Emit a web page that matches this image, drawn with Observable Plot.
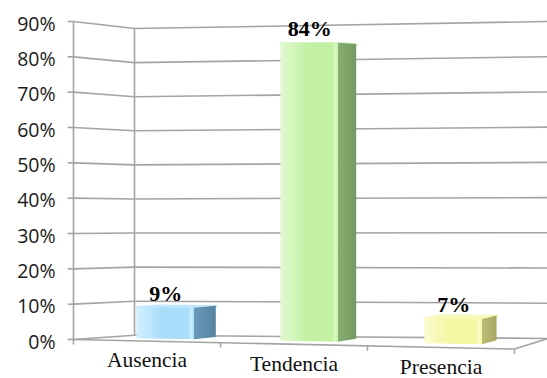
<!DOCTYPE html>
<html>
<head>
<meta charset="utf-8">
<script src="https://cdn.jsdelivr.net/npm/d3@7"></script>
<script src="https://cdn.jsdelivr.net/npm/@observablehq/plot@0.6"></script>
<style>
  html, body { margin: 0; padding: 0; background: #fff; }
  #chart svg { display: block; }
</style>
</head>
<body>
<div id="chart"></div>
<script>
// Data
const categories = ["Ausencia", "Tendencia", "Presencia"];
const values = [9, 84, 7];
const valueLabels = ["9%", "84%", "7%"];
const yTicks = [0, 10, 20, 30, 40, 50, 60, 70, 80, 90];
const tickLabels = ["0%", "10%", "20%", "30%", "40%", "50%", "60%", "70%", "80%", "90%"];

// Face colours per category: [light, base, edge highlight, side light, side dark, top]
const palettes = [
  ["#d2effe", "#a9ddfa", "#cdeefe", "#6a9abb", "#54849f", "#c2e7fc"],
  ["#e2f9d2", "#c3f1a3", "#dcf8c8", "#88ad74", "#739a60", "#d3f5bc"],
  ["#fbfccd", "#f4f6a2", "#fafbc4", "#bcbc77", "#a6a662", "#f8f9bb"]
];

// Perspective room: u runs across the category slots (0..3), w runs from the
// front edge (0) to the back wall (1), v is the percentage. Corners are given
// in x/y scale units: x position, y at 0% and y at 90%.
const room = {
  FL: {x: 0,     y0: 0,    y90: 90},
  FR: {x: 3,     y0: -2.7, y90: 90.5},
  BL: {x: 0.415, y0: 1.2,  y90: 88},
  BR: {x: 3.23,  y0: 0.3,  y90: 90}
};
const lerp = (a, b, k) => a + (b - a) * k;
function project(u, w, v) {
  const t = u / 3;
  const mix = key => lerp(lerp(room.FL[key], room.FR[key], t), lerp(room.BL[key], room.BR[key], t), w);
  const y0 = mix("y0"), y90 = mix("y90");
  return {x: mix("x"), y: y0 + (y90 - y0) * v / 90};
}

// Box footprint of each bar inside its slot
const halfWidth = 0.2, depthFront = 0.33, depthBack = 0.73;

const grid = "#a4a4a4";
const gridWidth = 1.6;

// Walls
const wallMarks = [
  // left wall gridlines
  Plot.link(yTicks, {
    x1: v => project(0, 0, v).x, y1: v => project(0, 0, v).y,
    x2: v => project(0, 1, v).x, y2: v => project(0, 1, v).y,
    stroke: grid, strokeWidth: gridWidth
  }),
  // back wall gridlines
  Plot.link(yTicks, {
    x1: v => project(0, 1, v).x, y1: v => project(0, 1, v).y,
    x2: v => project(3, 1, v).x, y2: v => project(3, 1, v).y,
    stroke: grid, strokeWidth: gridWidth
  }),
  // vertical edges: value axis at the front, wall corner at the back
  Plot.link([0, 1], {
    x1: w => project(0, w, 0).x, y1: w => project(0, w, 0).y,
    x2: w => project(0, w, 90).x, y2: w => project(0, w, 90).y,
    stroke: grid, strokeWidth: gridWidth
  }),
  // tick marks on the value axis
  Plot.link(yTicks, {
    x1: -0.04, y1: v => project(0, 0, v).y,
    x2: 0, y2: v => project(0, 0, v).y,
    stroke: grid, strokeWidth: gridWidth
  })
];

// Bars as boxes: top, side, then front face on top
const barMarks = categories.flatMap((c, i) => {
  const v = values[i];
  const u1 = i + 0.5 - halfWidth, u2 = i + 0.5 + halfWidth;
  const front = [u1, u2].map(u => ({
    x: project(u, depthFront, 0).x,
    y1: project(u, depthFront, 0).y,
    y2: project(u, depthFront, v).y
  }));
  const side = [depthFront, depthBack].map(w => ({
    x: project(u2, w, 0).x,
    y1: project(u2, w, 0).y,
    y2: project(u2, w, v).y
  }));
  const top = [[u1, depthFront], [u2, depthFront], [u2, depthBack], [u1, depthBack], [u1, depthFront]]
    .map(([u, w]) => project(u, w, v));
  return [
    Plot.line(top, {x: "x", y: "y", fill: palettes[i][5], stroke: palettes[i][5],
      strokeWidth: 2.5, strokeLinejoin: "round"}),
    Plot.areaY(side, {x: "x", y1: "y1", y2: "y2", fill: `url(#side-${i})`}),
    Plot.areaY(front, {x: "x", y1: "y1", y2: "y2", fill: `url(#front-${i})`})
  ];
});

// Floor edges in front of the bars, with category tick marks
const floorMarks = [
  Plot.link([0], {
    x1: () => project(0, 0, 0).x, y1: () => project(0, 0, 0).y,
    x2: () => project(3, 0, 0).x, y2: () => project(3, 0, 0).y,
    stroke: grid, strokeWidth: gridWidth
  }),
  Plot.link([0], {
    x1: () => project(3, 0, 0).x, y1: () => project(3, 0, 0).y,
    x2: () => project(3, 1, 0).x, y2: () => project(3, 1, 0).y,
    stroke: grid, strokeWidth: gridWidth
  }),
  Plot.link([0, 1, 2, 3], {
    x1: u => project(u, 0, 0).x, y1: u => project(u, 0, 0).y,
    x2: u => project(u, 0, 0).x, y2: u => project(u, 0, 0).y - 1.4,
    stroke: grid, strokeWidth: gridWidth
  })
];

const textMarks = [
  Plot.text(yTicks, {
    x: -0.122, y: v => project(0, 0, v).y,
    text: (v, i) => tickLabels[i],
    textAnchor: "end", dy: 3,
    fontFamily: "Open Sans", fontSize: 19.5, fill: "#1a1a1a"
  }),
  Plot.text(categories, {
    x: (c, i) => project(i + 0.5, 0, 0).x,
    y: (c, i) => project(i + 0.5, 0, 0).y,
    text: d => d,
    lineAnchor: "top", dy: 11,
    fontFamily: "Liberation Serif", fontSize: 21.5, fill: "#111"
  }),
  Plot.text(values, {
    x: (v, i) => project(i + 0.5, depthFront, v).x,
    y: (v, i) => project(i + 0.5, depthFront, v).y,
    text: (v, i) => valueLabels[i],
    dy: -14,
    fontFamily: "Liberation Serif", fontWeight: "bold", fontSize: 22, fill: "#000"
  })
];

const svg = Plot.plot({
  width: 547,
  height: 378,
  x: {type: "linear", domain: [0, 3], range: [73, 514], axis: null},
  y: {type: "linear", domain: [0, 90], range: [339, 21], axis: null},
  style: {background: "#fff", overflow: "hidden"},
  marks: [...wallMarks, ...barMarks, ...floorMarks, ...textMarks]
});

// Gradients for the bar faces
const ns = "http://www.w3.org/2000/svg";
const defs = document.createElementNS(ns, "defs");
function gradient(id, stops) {
  const g = document.createElementNS(ns, "linearGradient");
  g.setAttribute("id", id);
  g.setAttribute("x1", "0"); g.setAttribute("x2", "1");
  g.setAttribute("y1", "0"); g.setAttribute("y2", "0");
  for (const [offset, color] of stops) {
    const s = document.createElementNS(ns, "stop");
    s.setAttribute("offset", offset);
    s.setAttribute("stop-color", color);
    g.appendChild(s);
  }
  defs.appendChild(g);
}
palettes.forEach((p, i) => {
  gradient(`front-${i}`, [[0, p[0]], [0.45, p[1]], [0.9, p[1]], [0.95, p[2]], [1, p[1]]]);
  gradient(`side-${i}`, [[0, p[3]], [1, p[4]]]);
});
svg.insertBefore(defs, svg.firstChild);

document.getElementById("chart").appendChild(svg);
</script>
</body>
</html>
